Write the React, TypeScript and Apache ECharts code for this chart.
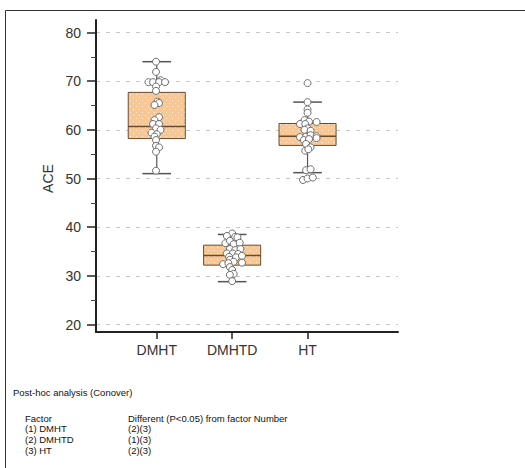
import React, { useEffect, useRef } from "react";
import * as echarts from "echarts";

const categories = ["DMHT", "DMHTD", "HT"];
const yTicks = [20, 30, 40, 50, 60, 70, 80];
// [low whisker, Q1, median, Q3, high whisker]
const boxDMHT = [51.0, 58.2, 60.7, 67.7, 74.0];
const boxDMHTD = [28.8, 32.2, 34.2, 36.3, 38.5];
const boxHT = [51.2, 56.8, 58.7, 61.3, 65.7];

// individual observations: [horizontal jitter (category units), value]
const ptsDMHT = [
  [-0.01, 74.0], [-0.01, 71.9], [0.05, 70.2], [-0.11, 69.8], [-0.05, 69.8], [0.03, 69.8], [0.11, 69.8],
  [-0.01, 68.9], [-0.01, 68.0], [0.01, 65.8], [0.03, 65.5], [-0.03, 65.1], [0.03, 62.6], [-0.03, 62.0],
  [-0.05, 61.2], [0.03, 61.2], [-0.01, 60.3], [0.05, 60.0], [-0.07, 59.4], [0, 59.1], [-0.03, 58.6],
  [-0.01, 57.9], [-0.01, 56.7], [0.03, 56.4], [-0.01, 55.5], [-0.01, 51.6],
];
const ptsDMHTD = [
  [0, 38.7], [-0.07, 38.2], [0.04, 38.0], [0.07, 37.9], [-0.09, 36.7], [-0.03, 37.2], [0.02, 36.5],
  [0.1, 36.8], [-0.03, 35.5], [0.04, 35.3], [0.11, 35.5], [-0.07, 34.6], [0.01, 34.6], [0.08, 34.5],
  [-0.04, 33.9], [0.05, 33.8], [0.13, 34.1], [-0.03, 33.3], [0.02, 32.9], [-0.12, 32.4], [-0.05, 32.6],
  [0.13, 32.7], [-0.03, 31.8], [0, 31.2], [0.02, 30.4], [-0.03, 30.2], [0, 28.9],
];
const ptsHT = [
  [0, 69.6], [0, 65.7], [0, 64.2], [0, 63.5], [-0.04, 62.0], [0.02, 61.7], [0.12, 61.6], [-0.1, 61.2],
  [-0.03, 61.2], [0, 60.3], [-0.04, 60.0], [0.04, 59.8], [-0.1, 58.5], [-0.02, 58.6], [0.04, 58.9],
  [0.12, 58.7], [0.12, 58.3], [-0.05, 57.9], [0.02, 58.1], [-0.02, 57.1], [0.04, 56.4], [-0.03, 55.7],
  [0.01, 56.0], [-0.02, 51.7], [0.04, 51.9], [-0.06, 49.7], [0, 50.0], [0.07, 50.2],
];

const tableHeader = ["Factor", "Different (P<0.05) from factor Number"];
const tableRows = [
  ["(1) DMHT", "(2)(3)"],
  ["(2) DMHTD", "(1)(3)"],
  ["(3) HT", "(2)(3)"],
];

const X_MIN = 0.194;
const X_MAX = 4.2;

function makePattern() {
  const c = document.createElement("canvas");
  c.width = 6;
  c.height = 6;
  const ctx = c.getContext("2d");
  if (ctx) {
    ctx.fillStyle = "#F9C793";
    ctx.fillRect(0, 0, 6, 6);
    ctx.fillStyle = "rgba(255,255,255,0.75)";
    ctx.fillRect(1, 1, 1, 1);
    ctx.fillRect(4, 4, 1, 1);
  }
  return { image: c, repeat: "repeat" };
}

export default function App() {
  const ref = useRef<HTMLDivElement>(null);
  useEffect(() => {
    if (!ref.current) return;
    const chart = echarts.init(ref.current, null, { renderer: "svg" });
    const pattern = makePattern();
    const boxes = [boxDMHT, boxDMHTD, boxHT];
    const boxData = boxes.map((b, i) => [i + 1, ...b]);
    const allPts = [ptsDMHT, ptsDMHTD, ptsHT];
    const scatterData: number[][] = [];
    allPts.forEach((arr, i) => arr.forEach((p) => scatterData.push([i + 1 + p[0], p[1]])));
    const font = "Liberation Sans, Arial, sans-serif";
    const lineColor = "#555";
    const boxBorder = "#6b4a2b";
    const tFont = "9.5px 'Liberation Sans', Arial, sans-serif";
    const rowsAll = [tableHeader, ...tableRows];

    const graphics: any[] = [
      {
        type: "rect",
        shape: { x: 5.5, y: 10.5, width: 540, height: 480 },
        style: { fill: "none", stroke: "#333", lineWidth: 1 },
        silent: true,
      },
      {
        type: "text",
        x: 13,
        y: 392,
        style: { text: "Post-hoc analysis (Conover)", font: tFont, fill: "#111", verticalAlign: "middle" },
      },
    ];
    rowsAll.forEach((r, i) => {
      graphics.push({
        type: "text",
        x: 25,
        y: 418 + i * 10.9,
        style: { text: r[0], font: tFont, fill: "#111", verticalAlign: "middle" },
      });
      graphics.push({
        type: "text",
        x: 128,
        y: 418 + i * 10.9,
        style: { text: r[1], font: tFont, fill: "#111", verticalAlign: "middle" },
      });
    });

    chart.setOption({
      animation: false,
      backgroundColor: "#fff",
      grid: [
        { left: 96, right: 127, top: 32.5, bottom: 143.5, containLabel: false },
        { left: 96, right: 127, top: 20, bottom: 136, containLabel: false },
      ],
      xAxis: [
        {
          type: "value",
          gridIndex: 0,
          min: X_MIN,
          max: X_MAX,
          offset: 7.5,
          axisLine: { show: true, onZero: false, lineStyle: { color: "#222", width: 2 } },
          axisTick: { show: true, length: 7, customValues: [1, 2, 3], lineStyle: { color: "#222", width: 1.5 } },
          axisLabel: {
            customValues: [1, 2, 3],
            formatter: (v: number) => categories[Math.round(v) - 1] || "",
            fontSize: 14,
            fontFamily: font,
            color: "#333",
            margin: 11,
          },
          splitLine: { show: false },
        },
        {
          type: "value",
          gridIndex: 1,
          min: 0,
          max: 1,
          show: false,
        },
      ],
      yAxis: [
        {
          type: "value",
          gridIndex: 0,
          min: yTicks[0],
          max: yTicks[yTicks.length - 1],
          interval: 10,
          name: "ACE",
          nameLocation: "middle",
          nameGap: 40,
          nameTextStyle: { fontSize: 14, fontFamily: font, color: "#333" },
          axisLine: { show: false },
          axisTick: { show: true, length: 9, lineStyle: { color: "#222", width: 1.5 } },
          minorTick: { show: true, splitNumber: 2, length: 5, lineStyle: { color: "#444", width: 1 } },
          axisLabel: { fontSize: 14, fontFamily: font, color: "#333", margin: 15 },
          splitLine: { show: true, lineStyle: { color: "#c8c8c8", type: [4, 6], width: 1 } },
        },
        {
          type: "value",
          gridIndex: 1,
          min: 0,
          max: 1,
          axisLine: { show: true, lineStyle: { color: "#222", width: 2 } },
          axisTick: { show: false },
          axisLabel: { show: false },
          splitLine: { show: false },
        },
      ],
      series: [
        {
          type: "custom",
          xAxisIndex: 0,
          yAxisIndex: 0,
          data: boxData,
          encode: { x: 0, y: [1, 2, 3, 4, 5] },
          z: 2,
          renderItem: (params: any, api: any) => {
            const x = api.value(0);
            const lo = api.coord([x, api.value(1)]);
            const q1 = api.coord([x, api.value(2)]);
            const md = api.coord([x, api.value(3)]);
            const q3 = api.coord([x, api.value(4)]);
            const hi = api.coord([x, api.value(5)]);
            const bw = api.size([0.757, 0])[0];
            const cw = api.size([0.38, 0])[0];
            const cx = lo[0];
            return {
              type: "group",
              children: [
                { type: "line", shape: { x1: cx, y1: hi[1], x2: cx, y2: q3[1] }, style: { stroke: lineColor, lineWidth: 1.2 } },
                { type: "line", shape: { x1: cx, y1: q1[1], x2: cx, y2: lo[1] }, style: { stroke: lineColor, lineWidth: 1.2 } },
                { type: "line", shape: { x1: cx - cw / 2, y1: hi[1], x2: cx + cw / 2, y2: hi[1] }, style: { stroke: lineColor, lineWidth: 1.5 } },
                { type: "line", shape: { x1: cx - cw / 2, y1: lo[1], x2: cx + cw / 2, y2: lo[1] }, style: { stroke: lineColor, lineWidth: 1.5 } },
                {
                  type: "rect",
                  shape: { x: cx - bw / 2, y: q3[1], width: bw, height: q1[1] - q3[1] },
                  style: { fill: pattern, stroke: boxBorder, lineWidth: 1 },
                },
                { type: "line", shape: { x1: cx - bw / 2, y1: md[1], x2: cx + bw / 2, y2: md[1] }, style: { stroke: boxBorder, lineWidth: 1.5 } },
              ],
            };
          },
        },
        {
          type: "scatter",
          xAxisIndex: 0,
          yAxisIndex: 0,
          data: scatterData,
          symbol: "circle",
          symbolSize: 7,
          z: 3,
          itemStyle: { color: "#fff", borderColor: "#6e6e6e", borderWidth: 1, opacity: 1 },
        },
      ],
      graphic: graphics,
    });
    return () => chart.dispose();
  }, []);
  return <div ref={ref} style={{ position: "fixed", left: 0, top: 0, width: 525, height: 468 }} />;
}
